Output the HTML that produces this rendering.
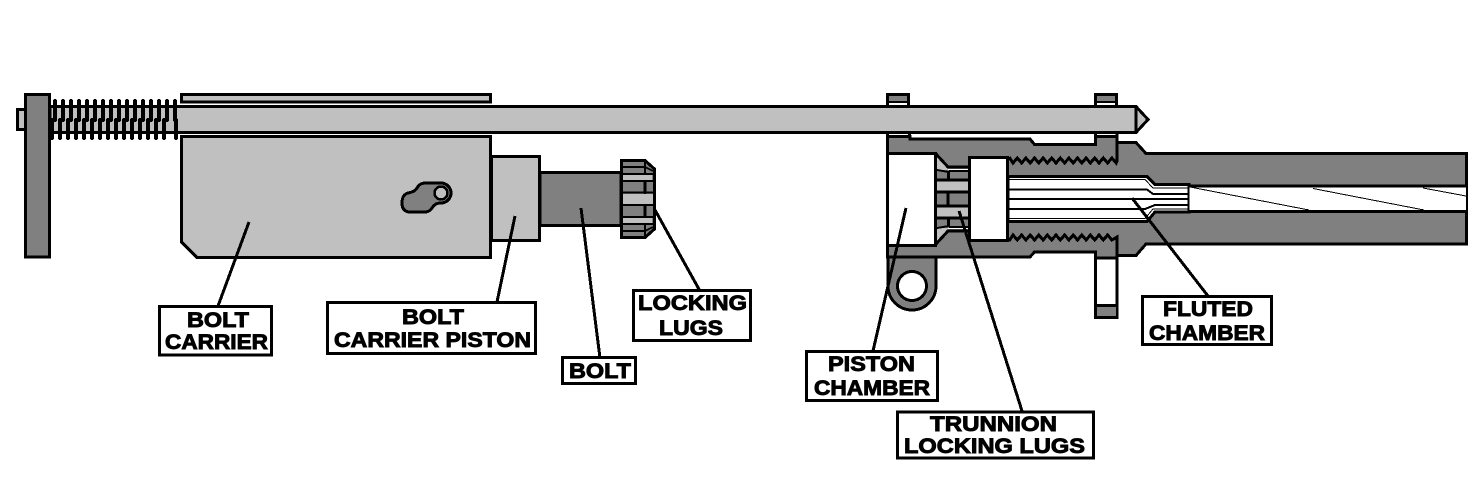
<!DOCTYPE html>
<html>
<head>
<meta charset="utf-8">
<style>
html,body{margin:0;padding:0;background:#fff;width:1482px;height:494px;overflow:hidden}
svg{display:block}
text{font-family:"Liberation Sans",sans-serif;font-weight:bold;font-size:21px;fill:#000;stroke:#000;stroke-width:.9}
</style>
</head>
<body>
<svg width="1482" height="494" viewBox="0 0 1482 494" xmlns="http://www.w3.org/2000/svg" shape-rendering="crispEdges">
<rect width="1482" height="494" fill="#fff"/>

<!-- Left: guide rod end and plate -->
<rect x="17.500" y="109.500" width="8" height="20" fill="#c0c0c0" stroke="#000" stroke-width="3"/>
<rect x="25.500" y="94.500" width="24" height="162.500" fill="#808080" stroke="#000" stroke-width="3"/>

<!-- Carrier -->
<path d="M181.500 103V94.500H490.500V103" fill="#c0c0c0" stroke="#000" stroke-width="3"/>
<rect x="183" y="96" width="306" height="5" fill="#c0c0c0"/>
<path d="M180 102H492" stroke="#000" stroke-width="3"/>
<path d="M181.500 136.500H490.500V257.500H197L181.500 242Z" fill="#c0c0c0" stroke="#000" stroke-width="3"/>
<path d="M408 193C413 192 415 191 417 188C419 184 422 183 426 183H441A10 10 0 0 1 441 203C436 203 434 205 432 208C430 211 428 212 424 212H410C404 212 402 208 402 203C402 198 404 194 408 193Z" fill="#808080" stroke="#000" stroke-width="3"/>
<circle cx="441" cy="193" r="6.500" fill="#c0c0c0" stroke="#000" stroke-width="2.500"/>

<!-- Piston and bolt -->
<rect x="491.500" y="156.500" width="48" height="84" fill="#c0c0c0" stroke="#000" stroke-width="3"/>
<rect x="540" y="172.500" width="81" height="53" fill="#808080" stroke="#000" stroke-width="3"/>

<!-- Bolt lugs -->
<path d="M621.500 160.500H645L654.500 169V229L645 237.500H621.500Z" fill="#808080" stroke="#000" stroke-width="3"/>
<path d="M645 160V238" stroke="#000" stroke-width="2"/>
<path d="M622 167H645L653 171M622 231H645L653 227" fill="none" stroke="#000" stroke-width="2"/>
<rect x="623" y="175" width="29" height="5" fill="#c0c0c0"/>
<rect x="623" y="218" width="29" height="5" fill="#c0c0c0"/>
<rect x="623" y="194" width="30" height="10" fill="#c0c0c0"/>
<path d="M622 181H653M622 174H653M622 217H653M622 224H653M622 192.500H654M622 205H654" stroke="#000" stroke-width="2"/>
<path d="M645 181V192M645 205V217" stroke="#000" stroke-width="3"/>

<!-- Front: sights -->
<rect x="887.500" y="94.500" width="21" height="11" fill="#808080" stroke="#000" stroke-width="3"/>
<rect x="1095.500" y="94.500" width="21" height="11" fill="#808080" stroke="#000" stroke-width="3"/>
<path d="M889 102H907M1097 102H1115" stroke="#000" stroke-width="2"/>
<rect x="889" y="103" width="18" height="2" fill="#fff"/>
<rect x="1097" y="103" width="18" height="2" fill="#fff"/>
<path d="M887.500 133V137M909.500 133V139M1095.500 133V145M1117 133V143" stroke="#000" stroke-width="3"/>

<!-- Front: stem and ring -->
<path d="M1095.500 255V317.500H1117V255" fill="#fff" stroke="#000" stroke-width="3"/>
<rect x="1097" y="307" width="19" height="9" fill="#808080"/>
<path d="M1096 305.500H1117" stroke="#000" stroke-width="3"/>
<path d="M888 256V286A24 24 0 0 0 936 286V256Z" fill="#808080" stroke="#000" stroke-width="3"/>
<circle cx="912" cy="286" r="14.500" fill="#fff" stroke="#000" stroke-width="3"/>

<!-- Front: body -->
<path d="M887.500 136.500H910V139H1030L1034.500 144.500H1095.500V136.500H1117V142.500H1136L1146 153.500H1466.500V244H1146L1136 255.500H1117V258H1095.500V252H1034.500L1030 257H887.500Z" fill="#808080" stroke="#000" stroke-width="3"/>
<rect x="887.500" y="153.500" width="48" height="92" fill="#fff" stroke="#000" stroke-width="3"/>

<!-- Throat -->
<g>
<path d="M937 156L948 168V170H937Z" fill="#c0c0c0"/>
<path d="M936 154L948 167H969" fill="none" stroke="#000" stroke-width="3"/>
<path d="M948 169.500H969" stroke="#fff" stroke-width="1"/>
<path d="M949 171H969M937 170L949 172" stroke="#000" stroke-width="2"/>
<path d="M948.500 171V180" stroke="#000" stroke-width="3"/>
<rect x="937" y="181" width="32" height="10" fill="#c0c0c0"/>
<path d="M937 180H969M937 192H969" stroke="#000" stroke-width="3"/>
<path d="M948 192V199" stroke="#000" stroke-width="3"/>
</g>
<g transform="translate(0,398) scale(1,-1)">
<path d="M937 156L948 168V170H937Z" fill="#c0c0c0"/>
<path d="M936 154L948 167H969" fill="none" stroke="#000" stroke-width="3"/>
<path d="M948 169.500H969" stroke="#fff" stroke-width="1"/>
<path d="M949 171H969M937 170L949 172" stroke="#000" stroke-width="2"/>
<path d="M948.500 171V180" stroke="#000" stroke-width="3"/>
<rect x="937" y="181" width="32" height="10" fill="#c0c0c0"/>
<path d="M937 180H969M937 192H969" stroke="#000" stroke-width="3"/>
<path d="M948 192V199" stroke="#000" stroke-width="3"/>
</g>

<!-- Threads -->
<path d="M1009 157L1013 163l4.300 -5 4.300 5 4.300 -5 4.300 5 4.300 -5 4.300 5 4.300 -5 4.300 5 4.300 -5 4.300 5 4.300 -5 4.300 5 4.300 -5 4.300 5 4.300 -5 4.300 5 4.300 -5 4.300 5 4.300 -5 4.300 5 4.300 -5 4.300 5 4.300 -5 4.300 5 L1117 161V143" fill="none" stroke="#000" stroke-width="3"/>
<path d="M1009 241L1013 235l4.300 5 4.300 -5 4.300 5 4.300 -5 4.300 5 4.300 -5 4.300 5 4.300 -5 4.300 5 4.300 -5 4.300 5 4.300 -5 4.300 5 4.300 -5 4.300 5 4.300 -5 4.300 5 4.300 -5 4.300 5 4.300 -5 4.300 5 4.300 -5 4.300 5 L1117 237V258" fill="none" stroke="#000" stroke-width="3"/>

<!-- Flutes and bore -->
<path d="M1008 176.500H1147L1155 184.500H1189V212H1155L1147 221.500H1008Z" fill="#fff" stroke="#000" stroke-width="3"/>
<path d="M1008 179.500H1145L1153 188H1189M1008 218.500H1145L1153 209H1189" fill="none" stroke="#000" stroke-width="1"/>
<path d="M1008 189.500H1147L1153 194H1189M1008 199H1189M1008 209H1145L1155 205H1189" fill="none" stroke="#000" stroke-width="2"/>
<rect x="1189" y="187" width="277" height="24" fill="#fff"/>
<path d="M1188 186H1466M1188 211.500H1466" stroke="#000" stroke-width="3"/>
<path d="M1188.500 185V213" stroke="#000" stroke-width="1.500"/>
<path d="M1190 187L1309 210M1313 188.500L1424 210M1423 188L1466 196" fill="none" stroke="#000" stroke-width="1"/>
<rect x="969.500" y="157.500" width="38" height="83" fill="#fff" stroke="#000" stroke-width="3"/>

<!-- Rod and spring -->
<path d="M50 106.500H1136L1148 119.500L1136 132.500H50Z" fill="#c0c0c0" stroke="#000" stroke-width="3"/>
<path d="M1136 106V133" stroke="#000" stroke-width="3"/>
<path d="M55 101V120M63 101V120M71 101V120M79 101V120M87 101V120M95 101V120M103 101V120M111 101V120M119 101V120M127 101V120M135 101V120M143 101V120M151 101V120M159 101V120M167 101V120M175 101V120M52 120V138M60 120V138M68 120V138M76 120V138M84 120V138M92 120V138M100 120V138M108 120V138M116 120V138M124 120V138M132 120V138M140 120V138M148 120V138M156 120V138M164 120V138M176 120V138" stroke="#000" stroke-width="4" stroke-linecap="round"/>

<!-- Leaders -->
<g stroke="#000" stroke-width="3" fill="none">
<path d="M249 222L218 306"/>
<path d="M515 216L497 302"/>
<path d="M581 208L600 358"/>
<path d="M655 210L700 291"/>
<path d="M906 208L873 351"/>
<path d="M959 211L1022 411"/>
<path d="M1132 198L1208 296"/>
</g>

<!-- Labels -->
<g fill="#fff" stroke="#000" stroke-width="3">
<rect x="159.500" y="306.500" width="112" height="48.500"/>
<rect x="327.500" y="302.500" width="208" height="51"/>
<rect x="562.500" y="357.500" width="73" height="26"/>
<rect x="633.500" y="290.500" width="117" height="50"/>
<rect x="806.500" y="351.500" width="131" height="49"/>
<rect x="897.500" y="412" width="196" height="46"/>
<rect x="1142.500" y="296.500" width="129" height="48"/>
</g>
<text x="187" y="327" textLength="62" lengthAdjust="spacingAndGlyphs">BOLT</text>
<text x="165" y="349" textLength="103" lengthAdjust="spacingAndGlyphs">CARRIER</text>
<text x="402" y="324" textLength="62" lengthAdjust="spacingAndGlyphs">BOLT</text>
<text x="334" y="347" textLength="197" lengthAdjust="spacingAndGlyphs">CARRIER PISTON</text>
<text x="569" y="378" textLength="62" lengthAdjust="spacingAndGlyphs">BOLT</text>
<text x="638" y="310" textLength="109" lengthAdjust="spacingAndGlyphs">LOCKING</text>
<text x="659" y="335" textLength="64" lengthAdjust="spacingAndGlyphs">LUGS</text>
<text x="828" y="371" textLength="87" lengthAdjust="spacingAndGlyphs">PISTON</text>
<text x="814" y="395" textLength="116" lengthAdjust="spacingAndGlyphs">CHAMBER</text>
<text x="930" y="431" textLength="127" lengthAdjust="spacingAndGlyphs">TRUNNION</text>
<text x="904" y="453" textLength="181" lengthAdjust="spacingAndGlyphs">LOCKING LUGS</text>
<text x="1163" y="316" textLength="90" lengthAdjust="spacingAndGlyphs">FLUTED</text>
<text x="1149" y="340" textLength="116" lengthAdjust="spacingAndGlyphs">CHAMBER</text>
</svg>
</body>
</html>
